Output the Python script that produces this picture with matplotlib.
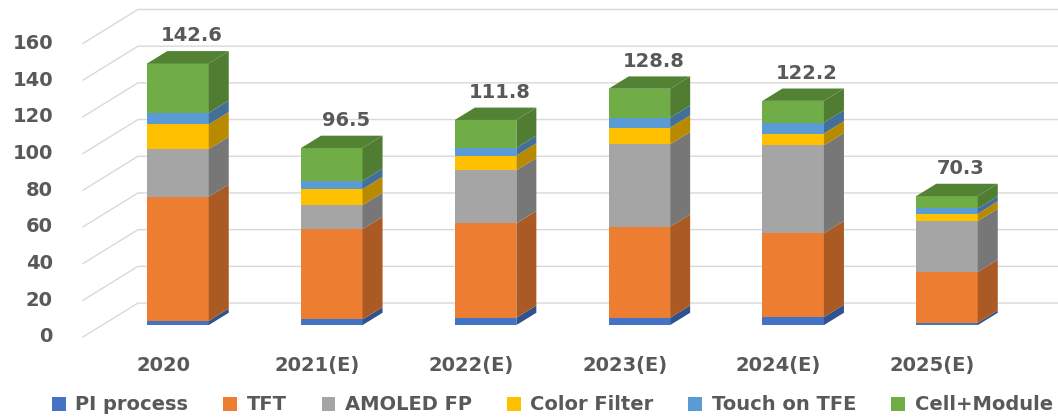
import numpy as np
import matplotlib.pyplot as plt
from matplotlib.patches import Polygon, Patch
from matplotlib.colors import to_rgb

years = ["2020", "2021(E)", "2022(E)", "2023(E)", "2024(E)", "2025(E)"]
series = ["PI process", "TFT", "AMOLED FP", "Color Filter", "Touch on TFE", "Cell+Module"]
pi_process = [2.3, 3.1, 4.0, 4.0, 4.4, 1.3]
tft = [67.6, 49.2, 51.4, 49.6, 45.6, 27.6]
amoled_fp = [26.0, 13.1, 29.0, 44.9, 48.0, 27.8]
color_filter = [13.5, 8.7, 8.0, 9.1, 6.4, 4.0]
touch_on_tfe = [6.3, 4.5, 4.2, 5.4, 6.0, 2.9]
cell_module = [26.9, 17.9, 15.2, 15.8, 11.8, 6.7]
totals = [142.6, 96.5, 111.8, 128.8, 122.2, 70.3]
yticks = [0, 20, 40, 60, 80, 100, 120, 140, 160]

colors = ["#4472C4", "#ED7D31", "#A5A5A5", "#FFC000", "#5B9BD5", "#70AD47"]
text_col = "#595959"
grid_col = "#D9D9D9"

# oblique projection: depth z in [0, 1] shifts x by kx and y by ky
kx, ky = 0.3576, 18.5
z_front, z_back = 0.35, 0.714
w = 0.4
x_wall = -0.4925


def shade(c, f):
    r, g, b = to_rgb(c)
    return (r * f, g * f, b * f)


fig = plt.figure(figsize=(10.58, 4.17), dpi=100)
ax = fig.add_axes([0, 0, 1, 1])
ax.set_xlim(-1.032, 5.847)
ax.set_ylim(-43.6, 183.65)
ax.axis("off")

# walls / gridlines
for v in yticks:
    ax.plot([x_wall, x_wall + kx, 5.847], [v, v + ky, v + ky], color=grid_col, lw=1.0, zorder=1)
    ax.text(x_wall - 0.195, v, str(v), ha="right", va="center", fontsize=14,
            fontweight="bold", color=text_col)

data = np.array([pi_process, tft, amoled_fp, color_filter, touch_on_tfe, cell_module])

for i in range(len(years)):
    bottom = 0.0
    xl = i - w / 2
    xr = i + w / 2
    for s in range(len(series)):
        v = data[s, i]
        c = colors[s]
        front = [(xl + z_front * kx, bottom + z_front * ky), (xr + z_front * kx, bottom + z_front * ky),
                 (xr + z_front * kx, bottom + v + z_front * ky), (xl + z_front * kx, bottom + v + z_front * ky)]
        side = [(xr + z_front * kx, bottom + z_front * ky), (xr + z_back * kx, bottom + z_back * ky),
                (xr + z_back * kx, bottom + v + z_back * ky), (xr + z_front * kx, bottom + v + z_front * ky)]
        ax.add_patch(Polygon(front, closed=True, fc=c, ec="none", zorder=3))
        ax.add_patch(Polygon(side, closed=True, fc=shade(c, 0.72), ec="none", zorder=3))
        bottom += v
    top_c = shade(colors[-1], 0.75)
    top = [(xl + z_front * kx, bottom + z_front * ky), (xr + z_front * kx, bottom + z_front * ky),
           (xr + z_back * kx, bottom + z_back * ky), (xl + z_back * kx, bottom + z_back * ky)]
    ax.add_patch(Polygon(top, closed=True, fc=top_c, ec="none", zorder=3))
    ax.text(i + 0.216, totals[i] + 21.5, f"{totals[i]:.1f}", ha="center", va="center",
            fontsize=14, fontweight="bold", color=text_col, zorder=4)
    ax.text(i + 0.03, -15.3, years[i], ha="center", va="center", fontsize=14,
            fontweight="bold", color=text_col)

handles = [Patch(fc=c, ec="none") for c in colors]
fig.legend(handles, series, loc="center", bbox_to_anchor=(0.522, 1 - 405 / 417), ncol=6,
           frameon=False, handlelength=0.7, handleheight=0.7, handletextpad=0.5,
           columnspacing=1.8, borderpad=0.1, prop={"size": 14, "weight": "bold"},
           labelcolor=text_col)

fig.savefig("out.png", dpi=100)
